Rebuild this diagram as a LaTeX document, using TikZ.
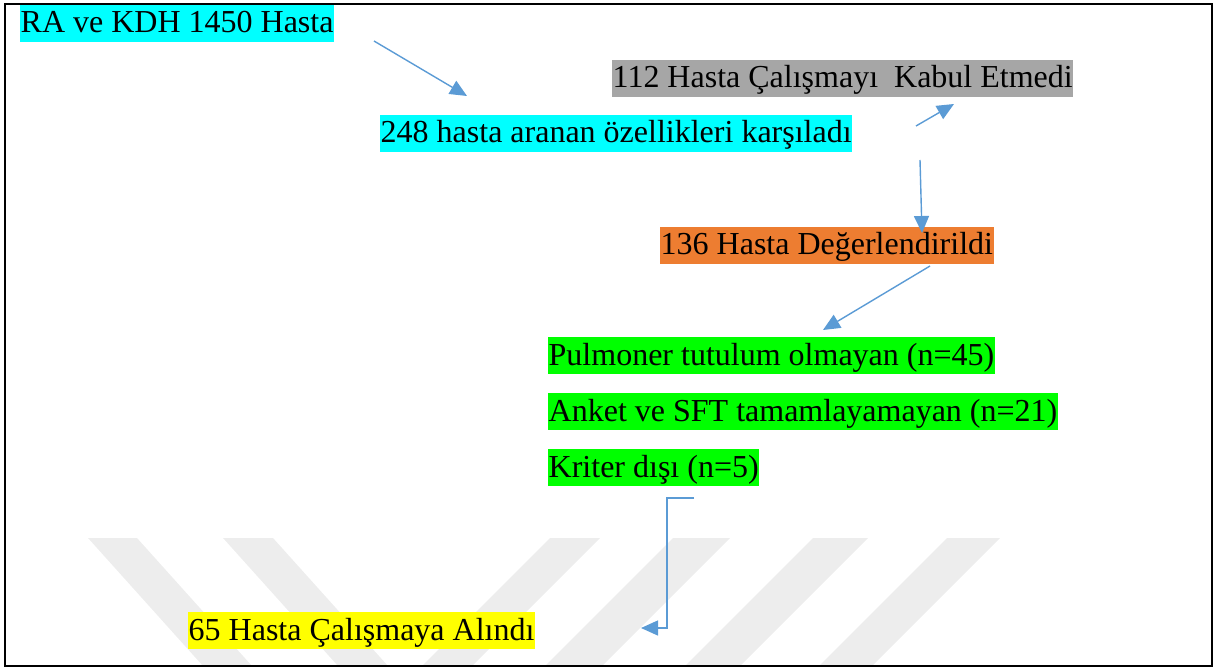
\documentclass[tikz,border=0pt]{standalone}
\usepackage{fontspec}
\setmainfont{Liberation Serif}
\usetikzlibrary{arrows.meta}
\definecolor{hlcyan}{HTML}{00FFFF}
\definecolor{hlgrey}{HTML}{A6A6A6}
\definecolor{hlorange}{HTML}{ED7D31}
\definecolor{hlgreen}{HTML}{00FF00}
\definecolor{hlyellow}{HTML}{FFFF00}
\definecolor{arrowblue}{HTML}{5B9BD5}

\begin{document}
\begin{tikzpicture}[x=1pt,y=-1pt,
  hl/.style={anchor=base west,inner xsep=0.5pt,inner ysep=0pt,
    text height=28pt,text depth=9pt,font=\fontsize{32}{38}\selectfont},
  flow/.style={draw=arrowblue,line width=1.4pt,
    -{Triangle[length=17pt,width=15pt]}},
  wmstripe/.style={fill=black!7,draw=none}]
\useasboundingbox (0,0) rectangle (1215,668);

% watermark
\begin{scope}
  \clip (5,4) rectangle (1212,666);
  \fill[wmstripe] (88,538) -- (137,538) -- (252,666) -- (203,666) -- cycle;
  \fill[wmstripe] (223,538) -- (273,538) -- (388,666) -- (338,666) -- cycle;
  \fill[wmstripe] (550,538) -- (600,538) -- (472,666) -- (422,666) -- cycle;
  \fill[wmstripe] (673,538) -- (730,538) -- (602,666) -- (545,666) -- cycle;
  \fill[wmstripe] (813,538) -- (868,538) -- (740,666) -- (685,666) -- cycle;
  \fill[wmstripe] (947,538) -- (1000,538) -- (872,666) -- (819,666) -- cycle;
\end{scope}

\draw[line width=2.7pt] (5,4) rectangle (1212,666);

\node[hl,fill=hlcyan] (ra) at (20,33) {RA ve KDH 1450 Hasta};
\node[hl,fill=hlgrey] (kabul) at (612,88) {112 Hasta Çalışmayı\ \ Kabul Etmedi};
\node[hl,fill=hlcyan] (uygun) at (380,143) {248 hasta aranan özellikleri karşıladı};
\node[hl,fill=hlorange] (deger) at (660,255) {136 Hasta Değerlendirildi};
\node[hl,fill=hlgreen] (pulm) at (548,365) {Pulmoner tutulum olmayan (n=45)};
\node[hl,fill=hlgreen] (anket) at (548,421) {Anket ve SFT tamamlayamayan (n=21)};
\node[hl,fill=hlgreen] (kriter) at (548,477) {Kriter dışı (n=5)};
\node[hl,fill=hlyellow] (alindi) at (188,640) {65 Hasta Çalışmaya Alındı};

\coordinate (a1) at (374,41);
\coordinate (a2) at (467,96);
\coordinate (b1) at (916,126);
\coordinate (b2) at (954,104);
\coordinate (c1) at (920,160);
\coordinate (c2) at (922,233);
\coordinate (d1) at (930,266);
\coordinate (d2) at (823,330);
\coordinate (e1) at (694,498);
\coordinate (e2) at (667,498);
\coordinate (e3) at (667,628);
\coordinate (e4) at (641,628);

\draw[flow] (a1) -- (a2);
\draw[flow] (b1) -- (b2);
\draw[flow] (c1) -- (c2);
\draw[flow] (d1) -- (d2);
\draw[flow] (e1) -- (e2) -- (e3) -- (e4);

\end{tikzpicture}
\end{document}
